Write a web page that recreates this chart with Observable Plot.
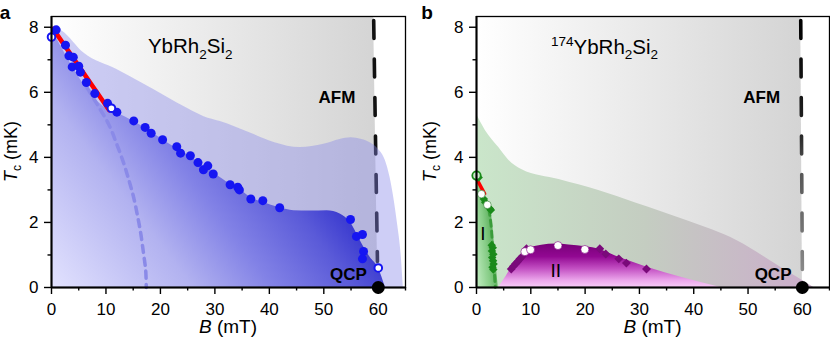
<!DOCTYPE html>
<html><head><meta charset="utf-8">
<script src="https://cdn.jsdelivr.net/npm/d3@7"></script>
<script src="https://cdn.jsdelivr.net/npm/@observablehq/plot@0.6"></script>
<style>
html,body{margin:0;padding:0;background:#fff;}
#wrap{display:flex;width:830px;height:337px;overflow:hidden;}
</style></head><body><div id="wrap"></div>
<script>
// ---------------- data (B in mT, Tc in mK) ----------------
// panel a: YbRh2Si2
const tcPointsA = [[0.86,7.92],[2.57,7.45],[3.2,7.12],[4.0,7.08],[3.8,6.78],[5.0,6.8],[5.3,6.62],[6.4,6.3],[7.95,5.96],[10.3,5.66],[12.0,5.39],[15.1,5.12],[17.2,4.92],[18.3,4.74],[20.4,4.54],[23.0,4.33],[23.7,4.13],[25.5,4.05],[26.9,3.84],[27.9,3.62],[28.7,3.74],[29.7,3.49],[32.8,3.16],[34.2,3.08],[34.5,3.0],[36.6,2.72],[38.8,2.67],[41.9,2.45],[54.9,2.09],[56.0,1.57],[57.1,1.63],[57.3,1.11],[57.1,0.88]];
const openPointsA = [[0,7.7],[11.0,5.51],[60,0.6]];
const tcBoundaryA = [[0,7.95],[10.6,5.45],[12,5.36],[15.1,5.1],[17.2,4.9],[20.4,4.54],[23,4.27],[25.5,4.02],[28,3.72],[30,3.5],[32.8,3.18],[34.5,3.03],[36.6,2.76],[38.8,2.62],[41.9,2.45],[44.5,2.36],[47.5,2.35],[50.6,2.36],[53,2.26],[54.9,2.0],[56.7,1.44],[58.5,0.93],[60,0.6],[61.3,0]];
const envelopeA = [[0,8.05],[2,7.88],[6,7.2],[12,6.7],[17,6.25],[25,5.5],[28,5.25],[31,5.1],[36.5,4.75],[41,4.45],[45.7,4.3],[50,4.4],[53,4.55],[55,4.6],[57,4.55],[58.5,4.45],[60,4.25],[61.3,3.9],[62.5,3.1],[63.5,2.0],[64.2,1.0],[64.6,0]];
const dashedCurveA = [[6.5,6.15],[8.5,5.6],[10.5,5.02],[12,4.4],[13.3,3.8],[14.3,3.25],[15.1,2.76],[15.8,2.2],[16.4,1.65],[16.9,1.05],[17.3,0.52],[17.4,0]];
const redLineA = [[0.3,7.95],[10.6,5.45]];
const afmLineA = [[59.15,8.33],[59.5,4.5],[59.85,0.8]];

// panel b: 174YbRh2Si2
const envelopeB = [[0,5.33],[1.66,4.82],[4.1,4.3],[5.9,3.92],[8.4,3.62],[15.2,3.32],[22.5,2.98],[29.3,2.6],[38.8,2.05],[48,1.44],[56,0.62],[62.1,0]];
const phaseIBoundary = [[0,3.45],[1,2.95],[2,2.6],[2.6,2.4],[3.0,1.9],[3.3,1.3],[3.6,0.7],[3.9,0.2],[4.0,0]];
const phaseIDashed = [[2.3,2.4],[2.7,1.9],[2.95,1.3],[3.2,0.7],[3.45,0]];
const phaseIIBoundary = [[4.1,0],[5.5,0.35],[6.3,0.57],[7.5,0.8],[8.4,1.05],[10,1.22],[12,1.3],[14.6,1.34],[17,1.31],[20.1,1.25],[22.7,1.17],[25.6,0.97],[28,0.82],[31.4,0.62],[38,0.3],[45,0]];
const redLineB = [[0.1,3.32],[1.5,2.88]];
const ringPointsB = [[0,3.44]];
const greenDiamondsB = [[0.4,3.38],[1.35,2.72],[1.6,2.62],[2.45,2.43],[2.65,2.38],[2.8,1.3],[3.0,1.22],[2.85,1.12],[3.1,1.02],[2.9,0.92],[3.05,0.82],[3.15,0.72],[2.95,0.62],[3.1,0.55]];
const whiteGreenB = [[0.9,2.87],[2.0,2.54]];
const purpleDiamondsB = [[6.4,0.57],[6.8,0.65],[7.2,0.73],[7.6,0.8],[8.0,0.88],[8.4,0.95],[9.2,1.19],[22.7,1.19],[23.8,1.03],[26.2,0.88],[27.6,0.75],[31.3,0.57]];
const whitePurpleB = [[8.9,1.1],[9.95,1.16],[15.0,1.29],[19.95,1.17]];
const afmLineB = [[59.7,8.33],[59.85,4.5],[60,0.55]];

const qcpPoint = [[60,0]];

// axes
const xMajor = [0,10,20,30,40,50,60];
const xMinor = [5,15,25,35,45,55,65];
const yMajor = [0,2,4,6,8];
const yMinor = [1,3,5,7];
const xDomain = [0,65];
const yDomain = [0,8.33];

// annotations
const titleA = [{B:17.8, T:7.2, parts:[["YbRh"],["2","sub"],["Si"],["2","sub"]]}];
const titleB = [{B:13.8, T:7.17, parts:[["174","sup"],["YbRh"],["2","sub"],["Si"],["2","sub"]]}];
const boldA = [{B:52.5, T:5.67, parts:[["AFM"]]},{B:54.6, T:0.21, parts:[["QCP"]]}];
const boldB = [{B:52.6, T:5.67, parts:[["AFM"]]},{B:54.7, T:0.21, parts:[["QCP"]]}];
const phaseLabelsB = [{B:1.25, T:1.45, parts:[["I"]]},{B:14.7, T:0.3, parts:[["II"]]}];

// ---------------- helpers ----------------
const FONT = '"Liberation Sans", Arial, Helvetica, sans-serif';
const pts = arr => arr.map(([B,T]) => ({B,T}));

function gradients(specs){
  return () => {
    const defs = d3.create("svg:defs");
    for (const s of specs){
      const g = defs.append("linearGradient").attr("id", s.id);
      for (const [k,v] of Object.entries(s.attrs)) g.attr(k, v);
      for (const [o,c] of s.stops) g.append("stop").attr("offset", o).attr("stop-color", c);
    }
    return defs.node();
  };
}

function richText(items, opts){
  return (index, scales) => {
    const g = d3.create("svg:g").attr("font-family", FONT);
    for (const it of items){
      const t = g.append("text").attr("x", scales.x(it.B)).attr("y", scales.y(it.T))
        .attr("font-size", opts.size).attr("font-weight", opts.bold ? "bold" : "normal")
        .attr("text-anchor", opts.anchor || "start").attr("fill", "black");
      let shift = 0;
      for (const [txt, kind] of it.parts){
        const sp = t.append("tspan").text(txt);
        const target = kind === "sub" ? opts.size*0.28 : kind === "sup" ? -opts.size*0.40 : 0;
        if (target !== shift) sp.attr("dy", target - shift);
        shift = target;
        if (kind) sp.attr("font-size", opts.size*0.66);
      }
    }
    return g.node();
  };
}

function axes(){
  return [
    Plot.frame({stroke:"black", strokeWidth:1.3}),
    Plot.ruleX([0], {stroke:"black", strokeWidth:2}),
    Plot.ruleY([0], {stroke:"black", strokeWidth:2}),
    Plot.axisX({ticks:xMajor, tickSize:7, tickPadding:8, fontSize:17, strokeWidth:1.4, label:null}),
    Plot.axisX({ticks:xMinor, tickSize:3.5, tickFormat:() => "", strokeWidth:1.4, label:null}),
    Plot.axisY({ticks:yMajor, tickSize:7, tickPadding:6, fontSize:17, strokeWidth:1.4, label:null}),
    Plot.axisY({ticks:yMinor, tickSize:3.5, tickFormat:() => "", strokeWidth:1.4, label:null})
  ];
}

function decorate(svg, letter, letterX, ml, mr, width, ylabX){
  const s = d3.select(svg);
  const top = 16, bottom = 287;
  s.append("text").attr("x", letterX).attr("y", 19).attr("font-family", FONT).attr("font-size", 19).attr("font-weight","bold").text(letter);
  const yl = s.append("text").attr("transform", `translate(${ylabX},${(top+bottom)/2}) rotate(-90)`)
    .attr("text-anchor","middle").attr("font-family", FONT).attr("font-size", 18);
  yl.append("tspan").attr("font-style","italic").text("T");
  yl.append("tspan").attr("font-size", 12).attr("dy", 4).text("c");
  yl.append("tspan").attr("dy", -4).text(" (mK)");
  const xl = s.append("text").attr("x", (ml + width - mr)/2).attr("y", 333)
    .attr("text-anchor","middle").attr("font-family", FONT).attr("font-size", 19);
  xl.append("tspan").attr("font-style","italic").text("B");
  xl.append("tspan").text(" (mT)");
}

const common = {
  width:415, height:337, marginTop:16, marginBottom:50,
  x:{domain:xDomain, label:null}, y:{domain:yDomain, label:null},
  style:{fontFamily:FONT, fontSize:"17px", overflow:"visible", background:"transparent", color:"black"}
};

// ---------------- panel a ----------------
const afmA = pts(afmLineA);
const afmAreaA = [...afmA, {B: afmA[afmA.length-1].B, T: 0}];
const plotA = Plot.plot({
  ...common, marginLeft:51, marginRight:10,
  marks:[
    gradients([
      {id:"gA_gray", attrs:{x1:0,y1:0,x2:1,y2:0}, stops:[[0,"#ffffff"],[1,"#d4d4d4"]]},
      {id:"gA_dark", attrs:{x1:0,y1:1,x2:0.9,y2:0.47}, stops:[[0,"#e2e2fe"],[0.35,"#b2b2f0"],[0.55,"#8282e6"],[0.75,"#5a5ad8"],[0.85,"#3e3ed0"],[1,"#3a3acc"]]}
    ]),
    Plot.areaX(afmAreaA, {x1:0, x2:"B", y:"T", fill:"url(#gA_gray)"}),
    Plot.line(afmA, {x:"B", y:"T", stroke:"#111", strokeWidth:3.6, strokeDasharray:"18,20.5", strokeDashoffset:34.5}),
    Plot.areaY(pts(envelopeA), {x:"B", y:"T", fill:"rgb(132,132,232)", fillOpacity:0.4, curve:"monotone-x"}),
    Plot.areaY(pts(tcBoundaryA), {x:"B", y:"T", fill:"url(#gA_dark)", curve:"monotone-x"}),
    Plot.line(pts(dashedCurveA), {x:"B", y:"T", stroke:"#8a8ae8", strokeWidth:3.5, strokeDasharray:"7,6", curve:"catmull-rom"}),
    Plot.line(pts(redLineA), {x:"B", y:"T", stroke:"#ff0000", strokeWidth:4.5}),
    Plot.dot(pts(tcPointsA), {x:"B", y:"T", r:4.5, fill:"#1616f2"}),
    Plot.dot(pts(openPointsA), {x:"B", y:"T", r:3.8, fill:"white", stroke:"#1616f2", strokeWidth:2}),
    ...axes(),
    Plot.dot(pts(qcpPoint), {x:"B", y:"T", r:6.5, fill:"black"}),
    richText(titleA, {size:20.5}),
    richText(boldA, {size:17, bold:true, anchor:"middle"})
  ]
});
decorate(plotA, "a", 5, 51, 10, 415, 17);

// ---------------- panel b ----------------
const afmB = pts(afmLineB);
const afmAreaB = [...afmB, {B: afmB[afmB.length-1].B, T: 0}];
const plotB = Plot.plot({
  ...common, marginLeft:61, marginRight:1,
  marks:[
    gradients([
      {id:"gB_gray", attrs:{x1:0,y1:0,x2:1,y2:0}, stops:[[0,"#ffffff"],[1,"#d4d4d4"]]},
      {id:"gB_dash", attrs:{x1:0,y1:0,x2:0,y2:1}, stops:[[0,"#000"],[0.45,"#222"],[0.6,"#555"],[1,"#888"]]},
      {id:"gB_env", attrs:{x1:0,y1:0,x2:1,y2:0}, stops:[[0,"#cae6ca"],[0.5,"#c4cdc1"],[1,"#cbaccb"]]},
      {id:"gB_purple", attrs:{x1:0,y1:0,x2:0,y2:1}, stops:[[0,"#780078"],[0.3,"#920892"],[0.57,"#c24ec2"],[0.85,"#eca8ec"],[1,"#f7cbf7"]]},
      {id:"gB_green", attrs:{x1:0,y1:1,x2:1,y2:0.4}, stops:[[0,"#c4eec4"],[0.5,"#86cc86"],[1,"#3c9a3c"]]}
    ]),
    Plot.areaX(afmAreaB, {x1:0, x2:"B", y:"T", fill:"url(#gB_gray)"}),
    Plot.line(afmB, {x:"B", y:"T", stroke:"url(#gB_dash)", strokeWidth:3.6, strokeDasharray:"18,20.5", strokeDashoffset:34.5}),
    Plot.areaY(pts(envelopeB), {x:"B", y:"T", fill:"url(#gB_env)", curve:"monotone-x"}),
    Plot.areaY(pts(phaseIIBoundary), {x:"B", y:"T", fill:"url(#gB_purple)", curve:"monotone-x"}),
    Plot.areaY(pts(phaseIBoundary), {x:"B", y:"T", fill:"url(#gB_green)", curve:"monotone-x"}),
    Plot.line(pts(phaseIDashed), {x:"B", y:"T", stroke:"#2e942e", strokeOpacity:0.75, strokeWidth:3, strokeDasharray:"6,5", curve:"catmull-rom"}),
    Plot.line(pts(redLineB), {x:"B", y:"T", stroke:"#ff0000", strokeWidth:3.5}),
    Plot.dot(pts(greenDiamondsB), {x:"B", y:"T", symbol:"diamond2", r:3.8, fill:"#1a8a1a"}),
    Plot.dot(pts(ringPointsB), {x:"B", y:"T", r:4.2, fill:"#cfe9cf", stroke:"#1a8a1a", strokeWidth:1.8}),
    Plot.dot(pts(whiteGreenB), {x:"B", y:"T", r:3.8, fill:"white", stroke:"#2a7a2a", strokeWidth:0.6}),
    Plot.dot(pts(purpleDiamondsB), {x:"B", y:"T", symbol:"diamond2", r:4, fill:"#7a0a7a"}),
    Plot.dot(pts(whitePurpleB), {x:"B", y:"T", r:4, fill:"white", stroke:"#800080", strokeWidth:0.6}),
    ...axes(),
    Plot.dot(pts(qcpPoint), {x:"B", y:"T", r:6.5, fill:"black"}),
    richText(titleB, {size:20.5}),
    richText(boldB, {size:17, bold:true, anchor:"middle"}),
    richText(phaseLabelsB, {size:19, anchor:"middle"})
  ]
});
decorate(plotB, "b", 12, 61, 1, 415, 21);

const wrap = document.getElementById("wrap");
wrap.appendChild(plotA);
wrap.appendChild(plotB);
</script></body></html>
